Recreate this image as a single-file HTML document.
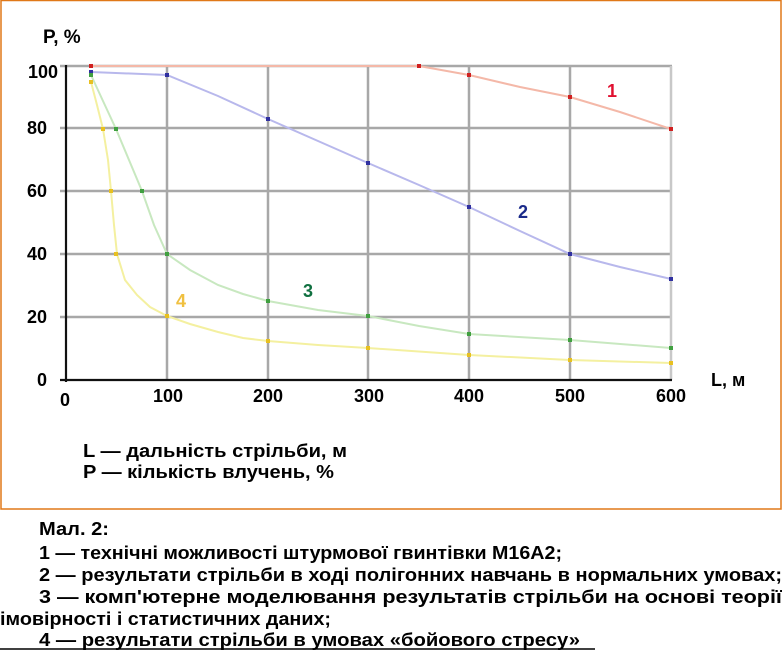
<!DOCTYPE html>
<html><head><meta charset="utf-8"><style>html,body{margin:0;padding:0;background:#fff}svg{display:block}</style></head>
<body>
<svg width="782" height="650" viewBox="0 0 782 650" xmlns="http://www.w3.org/2000/svg" font-family="Liberation Sans, sans-serif">
<rect x="0" y="0" width="782" height="650" fill="#fff"/>
<rect x="1" y="0.5" width="780" height="508.5" fill="none" stroke="#e07818" stroke-width="1.5"/>
<g stroke="#a8a8a8" stroke-width="2.5">
<line x1="60" y1="66" x2="672" y2="66"/>
<line x1="60" y1="128" x2="672" y2="128"/>
<line x1="60" y1="191" x2="672" y2="191"/>
<line x1="60" y1="254" x2="672" y2="254"/>
<line x1="60" y1="317" x2="672" y2="317"/>
<line x1="167" y1="66" x2="167" y2="380"/>
<line x1="268" y1="66" x2="268" y2="380"/>
<line x1="368" y1="66" x2="368" y2="380"/>
<line x1="469" y1="66" x2="469" y2="380"/>
<line x1="570" y1="66" x2="570" y2="380"/>
</g>
<g stroke="#c8c8c8" stroke-width="2.5"><line x1="671" y1="66" x2="671" y2="380"/></g>
<g stroke="#111" stroke-width="2.2"><line x1="66" y1="65" x2="66" y2="382"/><line x1="60" y1="380" x2="672" y2="380"/></g>
<g fill="none" stroke-width="2">
<polyline stroke="#f4b8a8" points="91,66 419,66 469,75 520,87 570,97 620,112 671,129"/>
<polyline stroke="#b8b8ec" points="91,72 167,75 218,96 268,119 318,141 368,163 419,185 469,207 520,231 570,254 620,267 671,279"/>
<polyline stroke="#c8e8c0" points="91,75 103,101 116,129 129,160 142,191 154,225 167,254 190,270 218,285 243,294 268,301 318,310 368,316 419,326 469,334 570,340 671,348"/>
<polyline stroke="#f4f0a0" points="91,82 97,105 103,129 108,160 111,191 114,225 117,254 125,280 137,295 150,307 167,316 190,324 218,332 243,338 268,341 318,345 368,348 469,355 570,360 671,363"/>
</g>
<g fill="#d02020"><rect x="89" y="64" width="4" height="4"/><rect x="417" y="64" width="4" height="4"/><rect x="467" y="73" width="4" height="4"/><rect x="568" y="95" width="4" height="4"/><rect x="669" y="127" width="4" height="4"/></g>
<g fill="#3030a0"><rect x="89" y="70" width="4" height="4"/><rect x="165" y="73" width="4" height="4"/><rect x="266" y="117" width="4" height="4"/><rect x="366" y="161" width="4" height="4"/><rect x="467" y="205" width="4" height="4"/><rect x="568" y="252" width="4" height="4"/><rect x="669" y="277" width="4" height="4"/></g>
<g fill="#40a040"><rect x="89" y="73" width="4" height="4"/><rect x="114" y="127" width="4" height="4"/><rect x="140" y="189" width="4" height="4"/><rect x="165" y="252" width="4" height="4"/><rect x="266" y="299" width="4" height="4"/><rect x="366" y="314" width="4" height="4"/><rect x="467" y="332" width="4" height="4"/><rect x="568" y="338" width="4" height="4"/><rect x="669" y="346" width="4" height="4"/></g>
<g fill="#e8c020"><rect x="89" y="80" width="4" height="4"/><rect x="101" y="127" width="4" height="4"/><rect x="109" y="189" width="4" height="4"/><rect x="114" y="252" width="4" height="4"/><rect x="165" y="314" width="4" height="4"/><rect x="266" y="339" width="4" height="4"/><rect x="366" y="346" width="4" height="4"/><rect x="467" y="353" width="4" height="4"/><rect x="568" y="358" width="4" height="4"/><rect x="669" y="361" width="4" height="4"/></g>
<g font-weight="bold" font-size="18" fill="#000">
<text x="43" y="43" font-size="19">P, %</text>
<g text-anchor="end"><text x="58" y="78">100</text><text x="47" y="134">80</text><text x="47" y="197">60</text><text x="47" y="260">40</text><text x="47" y="323">20</text><text x="47" y="386">0</text></g>
<g text-anchor="middle" fill="#000"><text x="65" y="406">0</text><text x="168" y="402">100</text><text x="268" y="402">200</text><text x="369" y="402">300</text><text x="469" y="402">400</text><text x="570" y="402">500</text><text x="671" y="402">600</text></g>
<text x="711" y="386">L, м</text>
<text x="607" y="97" fill="#e01030">1</text>
<text x="518" y="218" fill="#1a2a8a">2</text>
<text x="303" y="297" fill="#107040">3</text>
<text x="176" y="307" fill="#f0c040">4</text>
</g>
<g font-size="18" font-weight="bold" fill="#000">
<text x="83" y="457" textLength="264" lengthAdjust="spacingAndGlyphs">L — дальність стрільби, м</text>
<text x="83" y="478" textLength="251" lengthAdjust="spacingAndGlyphs">P — кількість влучень, %</text>
<text x="39" y="535" textLength="70" lengthAdjust="spacingAndGlyphs">Мал. 2:</text>
<text x="39" y="559" textLength="523" lengthAdjust="spacingAndGlyphs">1 — технічні можливості штурмової гвинтівки M16A2;</text>
<text x="39" y="581" textLength="743" lengthAdjust="spacingAndGlyphs">2 — результати стрільби в ході полігонних навчань в нормальних умовах;</text>
<text x="39" y="603" textLength="743" lengthAdjust="spacingAndGlyphs">3 — комп'ютерне моделювання результатів стрільби на основі теорії</text>
<text x="0" y="625" textLength="331" lengthAdjust="spacingAndGlyphs">імовірності і статистичних даних;</text>
<text x="39" y="646" textLength="541" lengthAdjust="spacingAndGlyphs">4 — результати стрільби в умовах «бойового стресу»</text>
</g>
<line x1="0" y1="649" x2="595" y2="649" stroke="#000" stroke-width="1.5"/>
</svg>
</body></html>
